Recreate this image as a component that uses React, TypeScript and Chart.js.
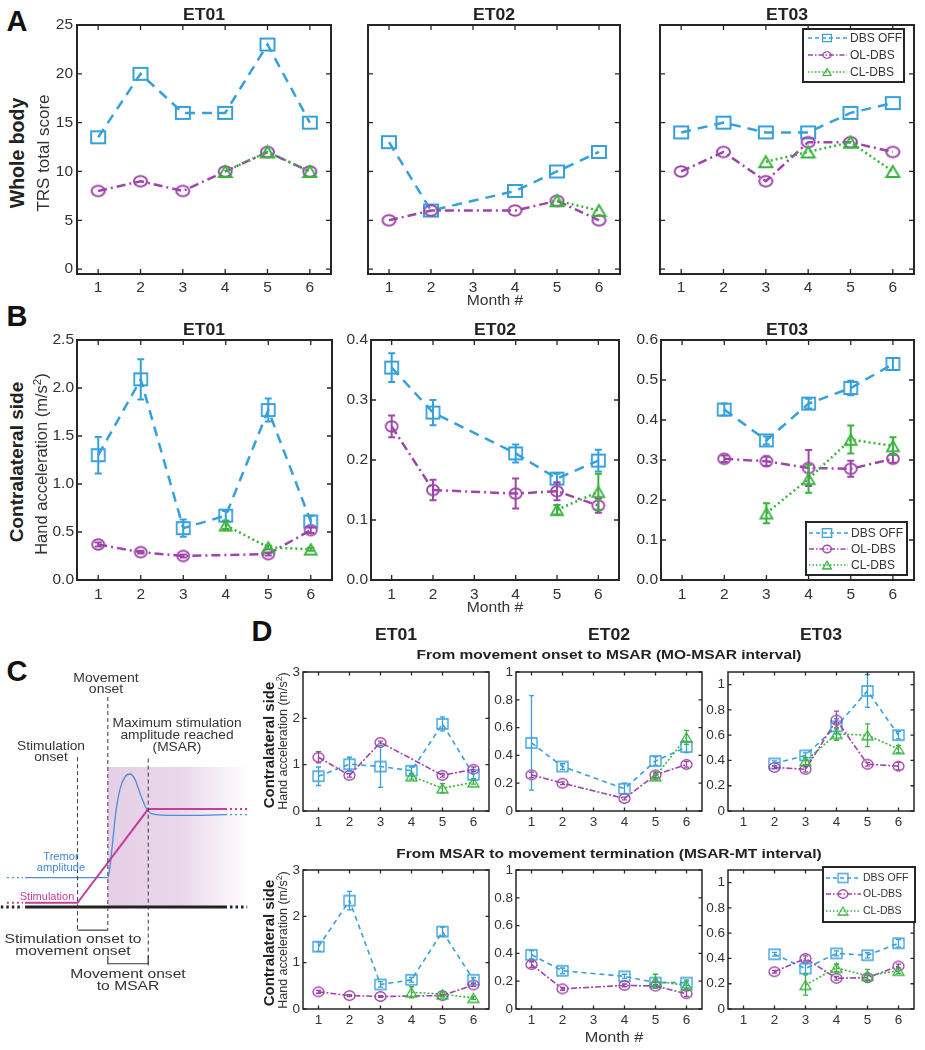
import React, { useEffect, useRef } from 'react';
import { Chart, registerables } from 'chart.js';

Chart.register(...registerables);

const FONT = '"Liberation Sans", Arial, Helvetica, sans-serif';
const BLUE = '#36a0dd';
const PURPLE = '#9d45a8';
const GREEN = '#38b43c';
const INK = '#262626';
const TICK_INK = '#333333';

// ---------------- data ----------------
const months = [1, 2, 3, 4, 5, 6];
const seriesLabels = ['DBS OFF', 'OL-DBS', 'CL-DBS'];

// Panel A: TRS total score
const A_yTicks = [0, 5, 10, 15, 20, 25];
const A_ET01_off = [13.5, 20, 16, 16, 23, 15];
const A_ET01_ol = [8, 9, 8, 10, 12, 10];
const A_ET01_cl = [null, null, null, 10, 12, 10];
const A_ET02_off = [13, 6, null, 8, 10, 12];
const A_ET02_ol = [5, 6, null, 6, 7, 5];
const A_ET02_cl = [null, null, null, null, 7, 6];
const A_ET03_off = [14, 15, 14, 14, 16, 17];
const A_ET03_ol = [10, 12, 9, 13, 13, 12];
const A_ET03_cl = [null, null, 11, 12, 13, 10];

// Panel B: hand acceleration (m/s^2)
const B_ET01_yTicks = [0, 0.5, 1, 1.5, 2, 2.5];
const B_ET02_yTicks = [0, 0.1, 0.2, 0.3, 0.4];
const B_ET03_yTicks = [0, 0.1, 0.2, 0.3, 0.4, 0.5, 0.6];
const B_ET01_off = [1.3, 2.09, 0.54, 0.67, 1.77, 0.61];
const B_ET01_off_err = [0.19, 0.21, 0.09, 0.05, 0.12, 0.06];
const B_ET01_ol = [0.37, 0.29, 0.25, null, 0.27, 0.52];
const B_ET01_ol_err = [0.02, 0.015, 0.015, null, 0.015, 0.03];
const B_ET01_cl = [null, null, null, 0.57, 0.34, 0.32];
const B_ET01_cl_err = [null, null, null, 0.04, 0.02, 0.015];
const B_ET02_off = [0.354, 0.279, null, 0.211, 0.169, 0.199];
const B_ET02_off_err = [0.024, 0.021, null, 0.015, 0.008, 0.018];
const B_ET02_ol = [0.256, 0.15, null, 0.144, 0.148, 0.124];
const B_ET02_ol_err = [0.018, 0.017, null, 0.025, 0.015, 0.012];
const B_ET02_cl = [null, null, null, null, 0.117, 0.147];
const B_ET02_cl_err = [null, null, null, null, 0.008, 0.03];
const B_ET03_off = [null, 0.426, 0.349, 0.441, 0.48, 0.54];
const B_ET03_off_err = [null, 0.015, 0.01, 0.012, 0.018, 0.015];
const B_ET03_ol = [null, 0.303, 0.297, 0.28, 0.278, 0.303];
const B_ET03_ol_err = [null, 0.008, 0.012, 0.045, 0.02, 0.01];
const B_ET03_cl = [null, null, 0.167, 0.253, 0.351, 0.335];
const B_ET03_cl_err = [null, null, 0.025, 0.035, 0.035, 0.022];

// Panel D: MO-MSAR interval
const D_ET01_yTicks = [0, 1, 2, 3];
const D_ET02_yTicks = [0, 0.2, 0.4, 0.6, 0.8, 1];
const D_ET03_yTicks = [0, 0.2, 0.4, 0.6, 0.8, 1];
const D_MO_ET01_off = [0.75, 1.01, 0.96, 0.87, 1.88, 0.78];
const D_MO_ET01_off_err = [0.2, 0.15, 0.45, 0.08, 0.15, 0.08];
const D_MO_ET01_ol = [1.16, 0.77, 1.48, null, 0.77, 0.9];
const D_MO_ET01_ol_err = [0.12, 0.04, 0.03, null, 0.04, 0.05];
const D_MO_ET01_cl = [null, null, null, 0.75, 0.49, 0.62];
const D_MO_ET01_cl_err = [null, null, null, 0.06, 0.1, 0.04];
const D_MO_ET02_off = [0.49, 0.32, null, 0.16, 0.36, 0.46];
const D_MO_ET02_off_err = [0.34, 0.02, null, 0.04, 0.03, 0.04];
const D_MO_ET02_ol = [0.26, 0.2, null, 0.09, 0.26, 0.335];
const D_MO_ET02_ol_err = [0.02, 0.01, null, 0.01, 0.02, 0.02];
const D_MO_ET02_cl = [null, null, null, null, 0.25, 0.53];
const D_MO_ET02_cl_err = [null, null, null, null, 0.02, 0.05];
const D_MO_ET03_off = [null, 0.376, 0.44, 0.67, 0.95, 0.6];
const D_MO_ET03_off_err = [null, 0.02, 0.02, 0.06, 0.13, 0.03];
const D_MO_ET03_ol = [null, 0.345, 0.33, 0.72, 0.37, 0.355];
const D_MO_ET03_ol_err = [null, 0.01, 0.02, 0.07, 0.015, 0.03];
const D_MO_ET03_cl = [null, null, 0.395, 0.61, 0.6, 0.49];
const D_MO_ET03_cl_err = [null, null, 0.03, 0.05, 0.09, 0.03];

// Panel D: MSAR-MT interval
const D_MT_ET01_off = [1.345, 2.34, 0.53, 0.63, 1.67, 0.63];
const D_MT_ET01_off_err = [0.1, 0.2, 0.06, 0.05, 0.1, 0.05];
const D_MT_ET01_ol = [0.37, 0.29, 0.27, null, 0.29, 0.52];
const D_MT_ET01_ol_err = [0.03, 0.02, 0.02, null, 0.02, 0.03];
const D_MT_ET01_cl = [null, null, null, 0.36, 0.32, 0.24];
const D_MT_ET01_cl_err = [null, null, null, 0.12, 0.05, 0.03];
const D_MT_ET02_off = [0.39, 0.275, null, 0.235, 0.19, 0.19];
const D_MT_ET02_off_err = [0.03, 0.02, null, 0.015, 0.02, 0.02];
const D_MT_ET02_ol = [0.32, 0.145, null, 0.17, 0.165, 0.11];
const D_MT_ET02_ol_err = [0.02, 0.01, null, 0.01, 0.01, 0.02];
const D_MT_ET02_cl = [null, null, null, null, 0.2, 0.17];
const D_MT_ET02_cl_err = [null, null, null, null, 0.05, 0.03];
const D_MT_ET03_off = [null, 0.433, 0.32, 0.44, 0.425, 0.52];
const D_MT_ET03_off_err = [null, 0.015, 0.04, 0.02, 0.02, 0.03];
const D_MT_ET03_ol = [null, 0.295, 0.4, 0.243, 0.248, 0.34];
const D_MT_ET03_ol_err = [null, 0.01, 0.02, 0.015, 0.02, 0.015];
const D_MT_ET03_cl = [null, null, 0.19, 0.326, 0.263, 0.303];
const D_MT_ET03_cl_err = [null, null, 0.08, 0.03, 0.05, 0.02];

// Panel C schematic (time, amplitude in arbitrary units)
const schemeStimT = [0, 26, 61, 100];
const schemeStimA = [3, 3, 70, 70];
const schemeTremorT = [0, 41, 42, 43.5, 45, 47, 49.5, 52, 54.5, 57, 59.5, 61, 63, 70, 85, 100];
const schemeTremorA = [21, 21, 28, 48, 68, 84, 93, 95, 91, 81, 72, 68.5, 66.5, 65.5, 65.5, 66];
const schemeStimOnset = 26;
const schemeMoveOnset = 41;
const schemeMsar = 61;

// ---------------- styles ----------------
const STYLE_A = {
  lw: 2.5, dash: [[10, 7], [9, 4, 2, 4], [2, 3]],
  mk: [[14, 12], [13, 10.5], [13, 11]], mlw: 2, errW: 2, cap: 7,
  tickFont: 15.5, xPad: 4, yPad: 4, frameW: 2, tickLen: 5, ayW: 45, axH: 30, padT: 14, padR: 14,
};
const STYLE_B = { ...STYLE_A, mk: [[13, 12], [12, 10.5], [12, 10.5]], mlw: 1.8, xPad: 5, yPad: 3 };
const STYLE_D = {
  lw: 1.6, dash: [[5, 4], [6, 2, 2, 2], [2, 2]],
  mk: [[11, 10], [11, 9.5], [11, 9]], mlw: 1.3, errW: 1.3, cap: 5,
  tickFont: 13.5, xPad: 3, yPad: 3, frameW: 1.5, tickLen: 3.5, ayW: 40, axH: 26, padT: 12, padR: 12,
};

// ---------------- helpers ----------------
function makeMarker(kind, color, w, h, lw) {
  const c = document.createElement('canvas');
  const W = Math.ceil(w + lw + 2);
  const H = Math.ceil(h + lw + 2);
  c.width = W;
  c.height = H;
  const g = c.getContext('2d');
  g.strokeStyle = color;
  g.lineWidth = lw;
  const cx = W / 2, cy = H / 2;
  g.beginPath();
  if (kind === 0) g.rect(cx - w / 2, cy - h / 2, w, h);
  else if (kind === 1) g.ellipse(cx, cy, w / 2, h / 2, 0, 0, Math.PI * 2);
  else {
    g.moveTo(cx, cy - h / 2);
    g.lineTo(cx + w / 2, cy + h / 2);
    g.lineTo(cx - w / 2, cy + h / 2);
    g.closePath();
  }
  g.stroke();
  return c;
}

const COLORS = [BLUE, PURPLE, GREEN];

function buildSets(vals, errs, S) {
  return vals.map((v, k) => {
    const data = [];
    months.forEach((m, i) => {
      if (v[i] == null) return;
      data.push({ x: m, y: v[i], e: errs && errs[k] && errs[k][i] != null ? errs[k][i] : 0 });
    });
    return {
      label: seriesLabels[k],
      data,
      borderColor: COLORS[k],
      borderWidth: S.lw,
      borderDash: S.dash[k],
      pointStyle: makeMarker(k, COLORS[k], S.mk[k][0], S.mk[k][1], S.mlw),
      pointRadius: 6,
      pointBackgroundColor: 'rgba(0,0,0,0)',
      pointBorderColor: COLORS[k],
      fill: false,
      tension: 0,
      order: 2 - k,
    };
  });
}

const framePlugin = {
  id: 'frame',
  afterDraw(chart, _a, o) {
    const { ctx, chartArea: a, scales } = chart;
    ctx.save();
    ctx.strokeStyle = INK;
    ctx.lineWidth = o.lw;
    ctx.strokeRect(a.left, a.top, a.right - a.left, a.bottom - a.top);
    const L = o.len;
    ctx.lineWidth = 1.3;
    ctx.beginPath();
    scales.x.ticks.forEach((t) => {
      const px = scales.x.getPixelForValue(t.value);
      ctx.moveTo(px, a.bottom); ctx.lineTo(px, a.bottom - L);
      ctx.moveTo(px, a.top); ctx.lineTo(px, a.top + L);
    });
    scales.y.ticks.forEach((t) => {
      const py = scales.y.getPixelForValue(t.value);
      ctx.moveTo(a.left, py); ctx.lineTo(a.left + L, py);
      ctx.moveTo(a.right, py); ctx.lineTo(a.right - L, py);
    });
    ctx.stroke();
    ctx.restore();
  },
};

const errPlugin = {
  id: 'errbars',
  afterDatasetsDraw(chart, _a, o) {
    const { ctx, scales } = chart;
    ctx.save();
    chart.data.datasets.forEach((ds) => {
      ctx.strokeStyle = ds.borderColor;
      ctx.lineWidth = o.lw;
      ctx.setLineDash([]);
      ctx.beginPath();
      ds.data.forEach((p) => {
        if (!p.e) return;
        const x = scales.x.getPixelForValue(p.x);
        const y1 = scales.y.getPixelForValue(p.y + p.e);
        const y2 = scales.y.getPixelForValue(p.y - p.e);
        const c = o.cap / 2;
        ctx.moveTo(x, y1); ctx.lineTo(x, y2);
        ctx.moveTo(x - c, y1); ctx.lineTo(x + c, y1);
        ctx.moveTo(x - c, y2); ctx.lineTo(x + c, y2);
      });
      ctx.stroke();
    });
    ctx.restore();
  },
};

const boxLegendPlugin = {
  id: 'boxLegend',
  afterDraw(chart, _a, o) {
    if (!o || !o.show) return;
    const { ctx, chartArea: a } = chart;
    const bx = a.left + o.box[0];
    const by = a.top + o.box[1];
    ctx.save();
    ctx.fillStyle = '#ffffff';
    ctx.fillRect(bx, by, o.box[2], o.box[3]);
    ctx.strokeStyle = INK;
    ctx.lineWidth = o.blw;
    ctx.setLineDash([]);
    ctx.strokeRect(bx, by, o.box[2], o.box[3]);
    chart.data.datasets.forEach((ds, k) => {
      const y = by + o.rows[k];
      ctx.strokeStyle = ds.borderColor;
      ctx.lineWidth = o.lw;
      ctx.setLineDash(o.dash[k]);
      ctx.beginPath();
      ctx.moveTo(bx + o.line[0], y);
      ctx.lineTo(bx + o.line[1], y);
      ctx.stroke();
      ctx.setLineDash([]);
      const img = ds.pointStyle;
      const w = img.width * o.ms, h = img.height * o.ms;
      ctx.drawImage(img, bx + o.mx - w / 2, y - h / 2, w, h);
      ctx.fillStyle = '#333333';
      ctx.font = `${o.font}px ${FONT}`;
      ctx.textBaseline = 'middle';
      ctx.textAlign = 'left';
      ctx.fillText(ds.label, bx + o.tx, y + 0.5);
    });
    ctx.restore();
  },
};

function ChartCanvas({ left, top, width, height, make }) {
  const ref = useRef(null);
  useEffect(() => {
    const chart = new Chart(ref.current, make());
    return () => chart.destroy();
  }, []);
  return (
    <canvas
      ref={ref}
      width={width}
      height={height}
      style={{ position: 'absolute', left, top, width, height }}
    />
  );
}

function Plot({ rect, S, vals, errs, yMin, yMax, yTicks, fmt, showY = true, legend = null }) {
  const [L, T, R, B] = rect;
  const left = L - S.ayW;
  const top = T - S.padT;
  const width = R - L + S.ayW + S.padR;
  const height = B - T + S.padT + S.axH;
  const make = () => ({
    type: 'line',
    data: { datasets: buildSets(vals, errs, S) },
    options: {
      animation: false,
      responsive: false,
      events: [],
      layout: { padding: { top: S.padT, right: S.padR, left: 0, bottom: 0 } },
      scales: {
        x: {
          type: 'linear',
          min: 0.5,
          max: 6.5,
          afterBuildTicks: (s) => { s.ticks = months.map((v) => ({ value: v })); },
          afterFit: (s) => { s.height = S.axH; },
          grid: { display: false, drawTicks: false },
          border: { display: false },
          ticks: {
            font: { family: FONT, size: S.tickFont },
            color: TICK_INK,
            padding: S.xPad,
            maxRotation: 0,
            autoSkip: false,
            callback: (v) => String(v),
          },
        },
        y: {
          type: 'linear',
          min: yMin,
          max: yMax,
          afterBuildTicks: (s) => { s.ticks = yTicks.map((v) => ({ value: v })); },
          afterFit: (s) => { s.width = S.ayW; },
          grid: { display: false, drawTicks: false },
          border: { display: false },
          ticks: {
            font: { family: FONT, size: S.tickFont },
            color: TICK_INK,
            padding: S.yPad,
            autoSkip: false,
            callback: (v) => (showY ? fmt(v) : ''),
          },
        },
      },
      plugins: {
        legend: { display: false },
        tooltip: { enabled: false },
        frame: { lw: S.frameW, len: S.tickLen },
        errbars: { lw: S.errW, cap: S.cap },
        boxLegend: legend ? { show: true, ...legend } : { show: false },
      },
    },
    plugins: [errPlugin, framePlugin, boxLegendPlugin],
  });
  return <ChartCanvas left={left} top={top} width={width} height={height} make={make} />;
}

const shadePlugin = {
  id: 'shade',
  beforeDatasetsDraw(chart) {
    const { ctx, scales, chartArea: a } = chart;
    const x0 = scales.x.getPixelForValue(schemeMoveOnset);
    const y0 = scales.y.getPixelForValue(100);
    const y1 = scales.y.getPixelForValue(0);
    const g = ctx.createLinearGradient(x0, 0, a.right, 0);
    g.addColorStop(0, '#e6cfe6');
    g.addColorStop(0.5, '#ead6ea');
    g.addColorStop(1, 'rgba(255,255,255,1)');
    ctx.save();
    ctx.fillStyle = g;
    ctx.fillRect(x0, y0, a.right - x0, y1 - y0);
    ctx.restore();
  },
};

function Schematic() {
  const make = () => {
    const line = (pts, color, w, dash = [], extra = {}) => ({
      data: pts.map(([x, y]) => ({ x, y })),
      showLine: true,
      borderColor: color,
      borderWidth: w,
      borderDash: dash,
      pointRadius: 0,
      tension: 0,
      fill: false,
      ...extra,
    });
    const MAG = '#c43f9b';
    const TB = '#4a8fd8';
    const DSH = '#3a3a3a';
    const stimPts = schemeStimT.map((t, i) => [t, schemeStimA[i]]);
    const tremPts = schemeTremorT.map((t, i) => [t, schemeTremorA[i]]);
    return {
      type: 'scatter',
      data: {
        datasets: [
          line([[schemeStimOnset, 107], [schemeStimOnset, -16.5]], DSH, 1, [4, 3]),
          line([[schemeMoveOnset, 150], [schemeMoveOnset, -16.5]], DSH, 1, [4, 3]),
          line([[schemeMsar, 106], [schemeMsar, -42]], DSH, 1, [4, 3]),
          line([[schemeStimOnset, -16.5], [schemeMoveOnset, -16.5]], DSH, 1.2),
          line([[schemeMoveOnset, -35], [schemeMoveOnset, -40.5], [schemeMsar, -40.5], [schemeMsar, -35]], DSH, 1.2),
          line([[-12, 0], [-1, 0]], '#222', 3, [2.5, 3]),
          line([[0, 0], [100, 0]], '#222', 3),
          line([[101.5, 0], [110, 0]], '#222', 3, [2.5, 3]),
          line([[-9, 3], [-1, 3]], MAG, 2, [2, 3]),
          line(stimPts, MAG, 2),
          line([[101.5, 70], [110, 70]], MAG, 2, [2, 3]),
          line([[-9, 21], [-1, 21]], TB, 1.3, [2, 3]),
          line(tremPts, TB, 1.3, [], { tension: 0.4, cubicInterpolationMode: 'monotone' }),
          line([[101.5, 66], [110, 66]], TB, 1.3, [2, 3]),
        ],
      },
      options: {
        animation: false,
        responsive: false,
        events: [],
        layout: { padding: 0 },
        scales: {
          x: { type: 'linear', min: -12.4, max: 111.4, display: false },
          y: { type: 'linear', min: -52.1, max: 155, display: false },
        },
        plugins: { legend: { display: false }, tooltip: { enabled: false } },
      },
      plugins: [shadePlugin],
    };
  };
  return <ChartCanvas left={0} top={690} width={250} height={290} make={make} />;
}

function Txt({ x, y, s, b = false, c = '#222', sx = 1, rot = false, lh = null, children }) {
  const style: any = {
    position: 'absolute',
    left: x,
    top: y,
    transform: `translate(-50%, -50%)${rot ? ' rotate(-90deg)' : ''}${sx !== 1 ? ` scaleX(${sx})` : ''}`,
    fontFamily: FONT,
    fontSize: s,
    fontWeight: b ? 'bold' : 'normal',
    color: c,
    whiteSpace: 'pre',
    lineHeight: lh ? `${lh}px` : 'normal',
    textAlign: 'center',
  };
  return <div style={style}>{children}</div>;
}

const fmtInt = (v) => String(v);
const fmt1 = (v) => Number(v).toFixed(1);
const fmtD = (v) => (v === 0 ? '0' : v === 1 ? '1' : Number(v).toFixed(1));

const legendA = {
  box: [143, 4, 101, 53], rows: [9, 26, 43], line: [5, 44], mx: 24, tx: 47,
  font: 12, lw: 1.5, blw: 2, ms: 0.62, dash: [[4, 3], [5, 2, 1.5, 2], [1.5, 2]],
};
const legendB = {
  box: [145, 182, 101, 53], rows: [11, 27, 43], line: [3, 42], mx: 21, tx: 45,
  font: 12, lw: 1.5, blw: 2, ms: 0.72, dash: [[4, 3], [5, 2, 1.5, 2], [1.5, 2]],
};
const legendD = {
  box: [95, -3, 92, 55], rows: [11, 27, 44], line: [3, 38], mx: 20, tx: 40,
  font: 10.5, lw: 1.3, blw: 2, ms: 0.9, dash: [[4, 3], [5, 2, 1.5, 2], [1.5, 2]],
};

export default function App() {
  return (
    <div style={{ position: 'absolute', left: 0, top: 0, width: 925, height: 1050, background: '#fff', overflow: 'hidden' }}>
      {/* Panel A */}
      <Plot rect={[77, 25, 331, 274]} S={STYLE_A} vals={[A_ET01_off, A_ET01_ol, A_ET01_cl]} errs={null}
        yMin={-0.5} yMax={25} yTicks={A_yTicks} fmt={fmtInt} />
      <Plot rect={[368, 25, 620, 274]} S={STYLE_A} vals={[A_ET02_off, A_ET02_ol, A_ET02_cl]} errs={null}
        yMin={-0.5} yMax={25} yTicks={A_yTicks} fmt={fmtInt} showY={false} />
      <Plot rect={[660, 25, 914, 274]} S={STYLE_A} vals={[A_ET03_off, A_ET03_ol, A_ET03_cl]} errs={null}
        yMin={-0.5} yMax={25} yTicks={A_yTicks} fmt={fmtInt} showY={false} legend={legendA} />

      {/* Panel B */}
      <Plot rect={[77, 340, 332, 580]} S={STYLE_B} vals={[B_ET01_off, B_ET01_ol, B_ET01_cl]}
        errs={[B_ET01_off_err, B_ET01_ol_err, B_ET01_cl_err]} yMin={0} yMax={2.5} yTicks={B_ET01_yTicks} fmt={fmt1} />
      <Plot rect={[371, 340, 619, 580]} S={STYLE_B} vals={[B_ET02_off, B_ET02_ol, B_ET02_cl]}
        errs={[B_ET02_off_err, B_ET02_ol_err, B_ET02_cl_err]} yMin={0} yMax={0.4} yTicks={B_ET02_yTicks} fmt={fmt1} />
      <Plot rect={[661, 340, 914, 580]} S={STYLE_B} vals={[B_ET03_off, B_ET03_ol, B_ET03_cl]}
        errs={[B_ET03_off_err, B_ET03_ol_err, B_ET03_cl_err]} yMin={0} yMax={0.6} yTicks={B_ET03_yTicks} fmt={fmt1} legend={legendB} />

      {/* Panel D top */}
      <Plot rect={[303, 672, 489, 811]} S={STYLE_D} vals={[D_MO_ET01_off, D_MO_ET01_ol, D_MO_ET01_cl]}
        errs={[D_MO_ET01_off_err, D_MO_ET01_ol_err, D_MO_ET01_cl_err]} yMin={0} yMax={3} yTicks={D_ET01_yTicks} fmt={fmtInt} />
      <Plot rect={[516, 672, 702, 811]} S={STYLE_D} vals={[D_MO_ET02_off, D_MO_ET02_ol, D_MO_ET02_cl]}
        errs={[D_MO_ET02_off_err, D_MO_ET02_ol_err, D_MO_ET02_cl_err]} yMin={0} yMax={1} yTicks={D_ET02_yTicks} fmt={fmtD} />
      <Plot rect={[728, 672, 914, 811]} S={STYLE_D} vals={[D_MO_ET03_off, D_MO_ET03_ol, D_MO_ET03_cl]}
        errs={[D_MO_ET03_off_err, D_MO_ET03_ol_err, D_MO_ET03_cl_err]} yMin={0} yMax={1.1} yTicks={D_ET03_yTicks} fmt={fmtD} />

      {/* Panel D bottom */}
      <Plot rect={[303, 870, 489, 1009]} S={STYLE_D} vals={[D_MT_ET01_off, D_MT_ET01_ol, D_MT_ET01_cl]}
        errs={[D_MT_ET01_off_err, D_MT_ET01_ol_err, D_MT_ET01_cl_err]} yMin={0} yMax={3} yTicks={D_ET01_yTicks} fmt={fmtInt} />
      <Plot rect={[516, 870, 702, 1009]} S={STYLE_D} vals={[D_MT_ET02_off, D_MT_ET02_ol, D_MT_ET02_cl]}
        errs={[D_MT_ET02_off_err, D_MT_ET02_ol_err, D_MT_ET02_cl_err]} yMin={0} yMax={1} yTicks={D_ET02_yTicks} fmt={fmtD} />
      <Plot rect={[728, 870, 914, 1009]} S={STYLE_D} vals={[D_MT_ET03_off, D_MT_ET03_ol, D_MT_ET03_cl]}
        errs={[D_MT_ET03_off_err, D_MT_ET03_ol_err, D_MT_ET03_cl_err]} yMin={0} yMax={1.1} yTicks={D_ET03_yTicks} fmt={fmtD} legend={legendD} />

      {/* Panel C */}
      <Schematic />

      {/* Panel letters */}
      <Txt x={17} y={21} s={29} b c="#111">A</Txt>
      <Txt x={17} y={316} s={29} b c="#111">B</Txt>
      <Txt x={17} y={671} s={29} b c="#111">C</Txt>
      <Txt x={262} y={631} s={29} b c="#111">D</Txt>

      {/* Titles */}
      <Txt x={204} y={15} s={16} b sx={1.1}>ET01</Txt>
      <Txt x={494} y={15} s={16} b sx={1.1}>ET02</Txt>
      <Txt x={787} y={15} s={16} b sx={1.1}>ET03</Txt>
      <Txt x={204} y={330} s={16} b sx={1.1}>ET01</Txt>
      <Txt x={495} y={330} s={16} b sx={1.1}>ET02</Txt>
      <Txt x={787} y={330} s={16} b sx={1.1}>ET03</Txt>
      <Txt x={396} y={635} s={16} b sx={1.1}>ET01</Txt>
      <Txt x={609} y={635} s={16} b sx={1.1}>ET02</Txt>
      <Txt x={821} y={635} s={16} b sx={1.1}>ET03</Txt>
      <Txt x={609} y={655} s={12.5} b sx={1.24}>From movement onset to MSAR (MO-MSAR interval)</Txt>
      <Txt x={609} y={854} s={12.5} b sx={1.24}>From MSAR to movement termination (MSAR-MT interval)</Txt>

      {/* Axis labels */}
      <Txt x={495} y={300} s={14} sx={1.12} c="#333">Month #</Txt>
      <Txt x={495} y={607} s={14} sx={1.12} c="#333">Month #</Txt>
      <Txt x={614} y={1037} s={14.5} sx={1.12} c="#333">Month #</Txt>
      <Txt x={17} y={153} s={19.5} b rot>Whole body</Txt>
      <Txt x={44} y={153} s={17} rot c="#333">TRS total score</Txt>
      <Txt x={17} y={462} s={19} b rot>Contralateral side</Txt>
      <Txt x={41} y={464} s={16.5} rot c="#333">Hand acceleration (m/s<sup style={{ fontSize: '0.7em' }}>2</sup>)</Txt>
      <Txt x={268} y={745} s={15} b rot>Contralateral side</Txt>
      <Txt x={282} y={741} s={12.5} rot c="#333">Hand acceleration (m/s<sup style={{ fontSize: '0.7em' }}>2</sup>)</Txt>
      <Txt x={268} y={943} s={15} b rot>Contralateral side</Txt>
      <Txt x={282} y={940} s={12.5} rot c="#333">Hand acceleration (m/s<sup style={{ fontSize: '0.7em' }}>2</sup>)</Txt>

      {/* Panel C texts */}
      <Txt x={106} y={684} s={12.5} sx={1.12} lh={11} c="#333">{'Movement\nonset'}</Txt>
      <Txt x={177} y={735} s={12.5} sx={1.1} lh={12} c="#333">{'Maximum stimulation\namplitude reached\n(MSAR)'}</Txt>
      <Txt x={51} y={752} s={12.5} sx={1.1} lh={11} c="#333">{'Stimulation\nonset'}</Txt>
      <Txt x={61} y={862} s={10.5} sx={1.06} lh={11} c="#3f86d0">{'Tremor\namplitude'}</Txt>
      <Txt x={47} y={896} s={10.5} sx={1.05} c="#c2399a">Stimulation</Txt>
      <Txt x={73} y={945} s={13} sx={1.2} lh={12} c="#333">{'Stimulation onset to\nmovement onset'}</Txt>
      <Txt x={128} y={980} s={13} sx={1.2} lh={12} c="#333">{'Movement onset\nto MSAR'}</Txt>
    </div>
  );
}
